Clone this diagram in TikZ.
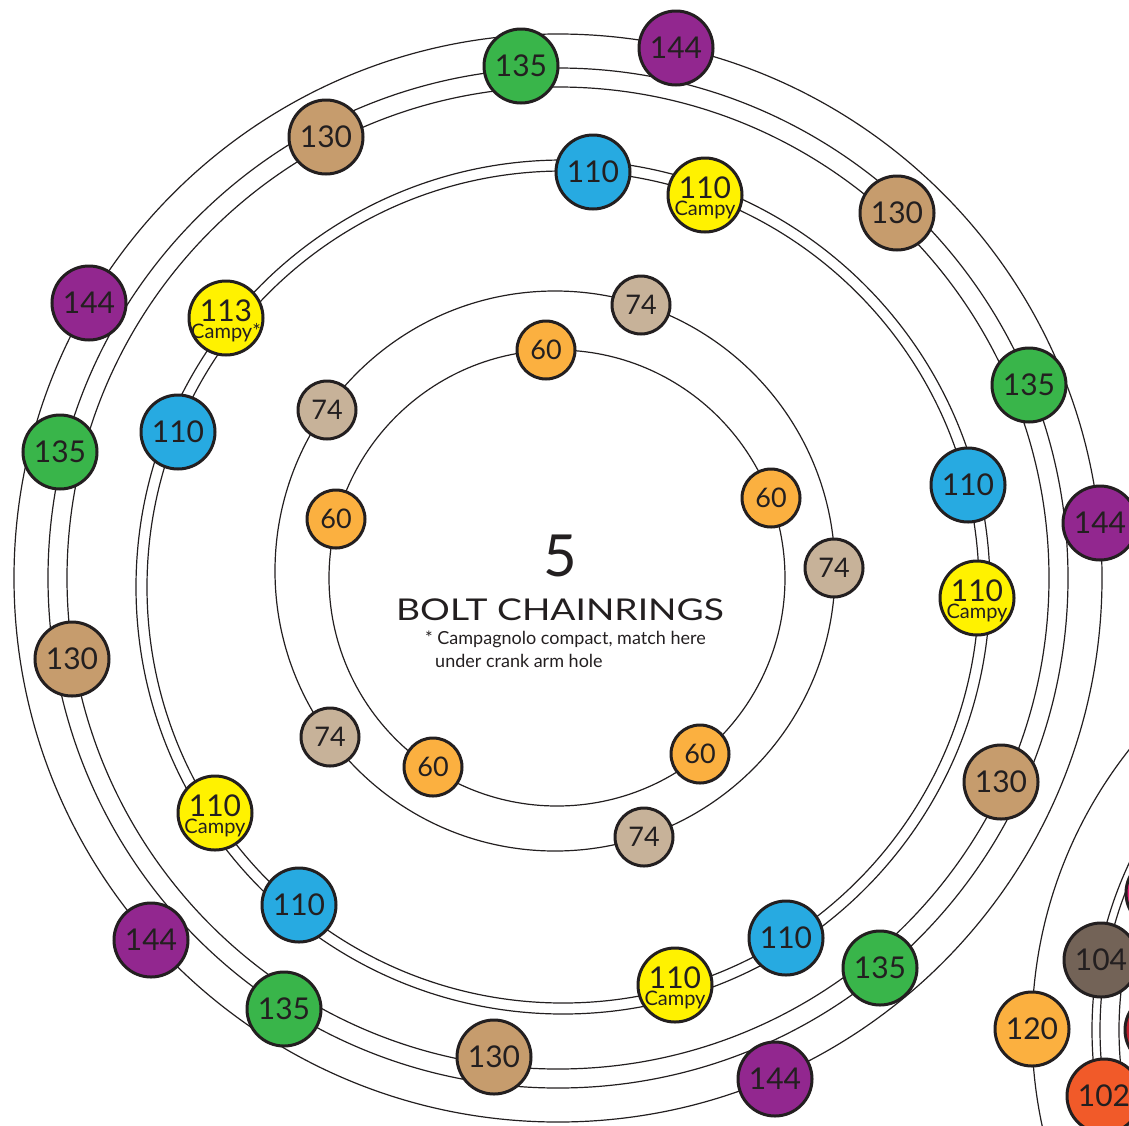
\documentclass[tikz,border=0pt]{standalone}
\usepackage{fontspec}
\setmainfont{Lato}
\usepackage{graphicx}

\definecolor{inkc}{HTML}{231F20}
\definecolor{c144}{HTML}{92278F}
\definecolor{c135}{HTML}{39B54A}
\definecolor{c130}{HTML}{C69C6D}
\definecolor{c110}{HTML}{27AAE1}
\definecolor{ccampy}{HTML}{FFF200}
\definecolor{c74}{HTML}{C7B299}
\definecolor{c60}{HTML}{FBB040}
\definecolor{c104}{HTML}{736357}
\definecolor{c102}{HTML}{F15A29}
\definecolor{cpink}{HTML}{ED1E79}
\definecolor{cred}{HTML}{BE1E2D}

\tikzset{
    ring/.style={draw=inkc, line width=1.2pt},
    bolt/.style={circle, draw=inkc, line width=3pt, minimum size=74pt, inner sep=0pt,
        text=inkc, font=\fontsize{30}{30}\selectfont},
    smallbolt/.style={bolt, minimum size=58pt, font=\fontsize{27}{27}\selectfont},
    campy/.style={bolt, fill=ccampy, text height=22pt, text depth=16pt,
        label={[text=inkc, inner sep=0pt, font=\fontsize{20}{20}\selectfont, yshift=-15pt]center:#1}},
    campy/.default=Campy,
    note/.style={text=inkc, font=\fontsize{18}{18}\selectfont, inner sep=0pt},
}

\begin{document}
\begin{tikzpicture}[x=1pt,y=-1pt]
    \useasboundingbox (0,0) rectangle (1129,1125);
    \clip (0,0) rectangle (1129,1125);
    % rings
    \draw[ring] (557,578) circle[radius=228];
    \draw[ring] (555,571) circle[radius=280];
    \draw[ring] (563,587) circle[radius=416];
    \draw[ring] (563,587) circle[radius=427];
    \draw[ring] (558,578) circle[radius=491];
    \draw[ring] (558,578) circle[radius=510];
    \draw[ring] (558,578) circle[radius=544];
    % next chart, cut off at the edge
    \draw[ring] (1485,1030) circle[radius=453];
    \draw[ring] (1485,1030) circle[radius=393];
    \draw[ring] (1485,1030) circle[radius=385];
    \draw[ring] (1485,1030) circle[radius=366];

    % 144
    \node[bolt,fill=c144] (b144a) at (676,48) {144};
    \node[bolt,fill=c144] (b144b) at (1100,523) {144};
    \node[bolt,fill=c144] (b144c) at (775,1079) {144};
    \node[bolt,fill=c144] (b144d) at (151,940) {144};
    \node[bolt,fill=c144] (b144e) at (89,303) {144};
    % 135
    \node[bolt,fill=c135] (b135a) at (521,66) {135};
    \node[bolt,fill=c135] (b135b) at (1029,385) {135};
    \node[bolt,fill=c135] (b135c) at (880,968) {135};
    \node[bolt,fill=c135] (b135d) at (284,1009) {135};
    \node[bolt,fill=c135] (b135e) at (60,452) {135};
    % 130
    \node[bolt,fill=c130] (b130a) at (326,137) {130};
    \node[bolt,fill=c130] (b130b) at (897,213) {130};
    \node[bolt,fill=c130] (b130c) at (1001,782) {130};
    \node[bolt,fill=c130] (b130d) at (494,1057) {130};
    \node[bolt,fill=c130] (b130e) at (72,659) {130};
    % 110
    \node[bolt,fill=c110] (b110a) at (593,172) {110};
    \node[bolt,fill=c110] (b110b) at (968,485) {110};
    \node[bolt,fill=c110] (b110c) at (786,938) {110};
    \node[bolt,fill=c110] (b110d) at (299,905) {110};
    \node[bolt,fill=c110] (b110e) at (178,432) {110};
    % 110 campy, 113 campy
    \node[campy] (cp110a) at (705,195) {110};
    \node[campy] (cp110b) at (977,598) {110};
    \node[campy] (cp110c) at (675,985) {110};
    \node[campy] (cp110d) at (215,813) {110};
    \node[campy=Campy*] (cp113) at (226,318) {113};
    % 74
    \node[smallbolt,fill=c74] (b74a) at (641,305) {74};
    \node[smallbolt,fill=c74] (b74b) at (834,568) {74};
    \node[smallbolt,fill=c74] (b74c) at (644,837) {74};
    \node[smallbolt,fill=c74] (b74d) at (330,737) {74};
    \node[smallbolt,fill=c74] (b74e) at (327,410) {74};
    % 60
    \node[smallbolt,fill=c60] (b60a) at (546,350) {60};
    \node[smallbolt,fill=c60] (b60b) at (771,498) {60};
    \node[smallbolt,fill=c60] (b60c) at (700,754) {60};
    \node[smallbolt,fill=c60] (b60d) at (433,767) {60};
    \node[smallbolt,fill=c60] (b60e) at (336,519) {60};
    % next chart
    \node[bolt,fill=cpink] (b121) at (1163,893) {};
    \node[bolt,fill=cred] (b112) at (1162,1030) {};
    \node[bolt,fill=c104] (b104) at (1101,960) {104};
    \node[bolt,fill=c60] (b120) at (1032,1029) {120};
    \node[bolt,fill=c102] (b102) at (1104,1096) {102};

    % title
    \node[text=inkc, font=\fontsize{58}{58}\selectfont] (five) at (560,556) {5};
    \node[text=inkc, font=\fontsize{30}{30}\selectfont, inner sep=0pt, anchor=base] (title) at (560,620)
        {\scalebox{1.24}[1]{BOLT CHAINRINGS}};
    \node[note, anchor=base west] (note1) at (425,644) {* Campagnolo compact, match here};
    \node[note, anchor=base west] (note2) at (435,667) {under crank arm hole};
\end{tikzpicture}
\end{document}
